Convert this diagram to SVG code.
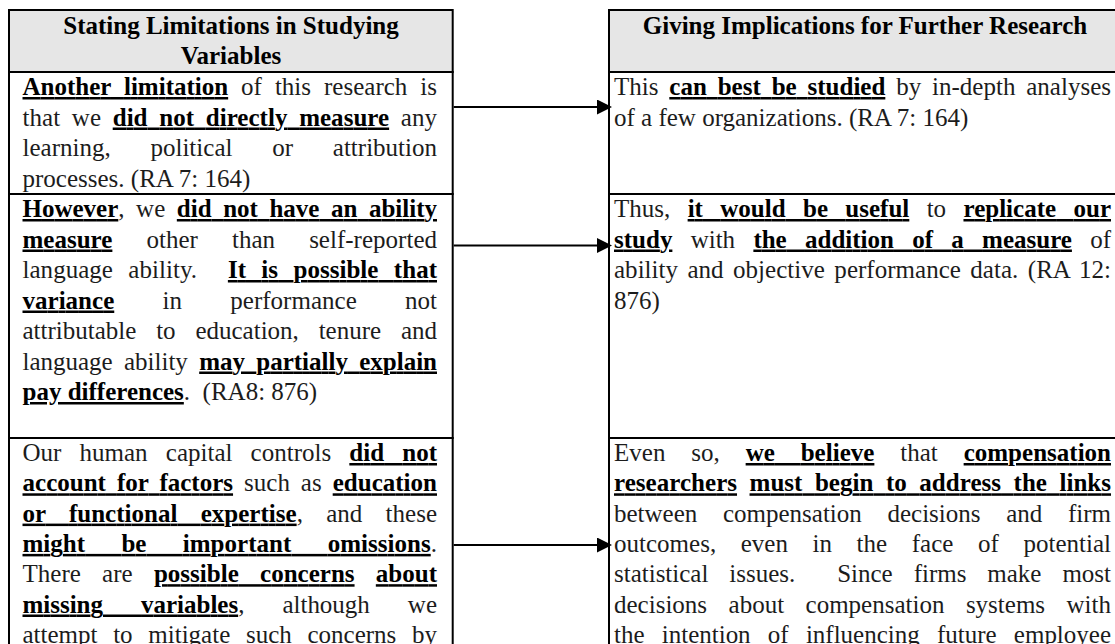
<svg xmlns="http://www.w3.org/2000/svg" width="1115" height="644" viewBox="0 0 1115 644">
<defs>
<style>
text{font-family:"Liberation Serif","Times New Roman",serif;font-size:25px;fill:#1c1c1c}
.h{font-weight:bold;fill:#000;text-anchor:middle}
.u{font-weight:bold;fill:#000;text-decoration:underline;text-decoration-thickness:2px;text-underline-offset:3px}
.cell{fill:#fff;stroke:#000;stroke-width:2}
.head{fill:#e6e6e6;stroke:#000;stroke-width:2}
.conn{stroke:#000;stroke-width:2;fill:none}
</style>
<marker id="ah" markerUnits="userSpaceOnUse" markerWidth="15" markerHeight="15" refX="3" refY="7.5" orient="auto"><path d="M0,0 L15,7.5 L0,15 Z" fill="#000"/></marker>
</defs>
<rect x="0" y="0" width="1115" height="644" fill="#fff"/>

<g id="left-header">
<rect class="head" x="9" y="10" width="443.7" height="62"/>
<text class="h" x="231" y="33.5">Stating Limitations in Studying</text>
<text class="h" x="231" y="64">Variables</text>
</g>
<g id="left-row1">
<rect class="cell" x="9" y="72" width="443.7" height="122"/>
<text x="22.5" y="95" textLength="414.5" lengthAdjust="spacing" style="word-spacing:6.7px"><tspan class="u">Another limitation</tspan> of this research is</text>
<text x="22.5" y="125.5" textLength="414.5" lengthAdjust="spacing" style="word-spacing:5.4px">that we <tspan class="u">did not directly measure</tspan> any</text>
<text x="22.5" y="156" textLength="414.5" lengthAdjust="spacing" style="word-spacing:33.5px">learning, political or attribution</text>
<text x="22.5" y="186.5">processes. (RA 7: 164)</text>
</g>
<g id="left-row2">
<rect class="cell" x="9" y="194" width="443.7" height="244"/>
<text x="22.5" y="217" textLength="414.5" lengthAdjust="spacing" style="word-spacing:5.3px"><tspan class="u">However</tspan>, we <tspan class="u">did not have an ability</tspan></text>
<text x="22.5" y="247.5" textLength="414.5" lengthAdjust="spacing" style="word-spacing:27.8px"><tspan class="u">measure</tspan> other than self-reported</text>
<text x="22.5" y="278" textLength="414.5" lengthAdjust="spacing" style="word-spacing:9.1px">language ability.&#160; <tspan class="u">It is possible that</tspan></text>
<text x="22.5" y="308.5" textLength="414.5" lengthAdjust="spacing" style="word-spacing:42px"><tspan class="u">variance</tspan> in performance not</text>
<text x="22.5" y="339" textLength="414.5" lengthAdjust="spacing" style="word-spacing:13.6px">attributable to education, tenure and</text>
<text x="22.5" y="369.5" textLength="414.5" lengthAdjust="spacing" style="word-spacing:5.1px">language ability <tspan class="u">may partially explain</tspan></text>
<text x="22.5" y="400"><tspan class="u">pay differences</tspan>.&#160; (RA8: 876)</text>
</g>
<g id="left-row3">
<rect class="cell" x="9" y="438" width="443.7" height="260"/>
<text x="22.5" y="461" textLength="414.5" lengthAdjust="spacing" style="word-spacing:11.9px">Our human capital controls <tspan class="u">did not</tspan></text>
<text x="22.5" y="491.3" textLength="414.5" lengthAdjust="spacing" style="word-spacing:4.7px"><tspan class="u">account for factors</tspan> such as <tspan class="u">education</tspan></text>
<text x="22.5" y="521.6" textLength="414.5" lengthAdjust="spacing" style="word-spacing:17px"><tspan class="u">or functional expertise</tspan>, and these</text>
<text x="22.5" y="551.9" textLength="414.5" lengthAdjust="spacing" style="word-spacing:30px"><tspan class="u">might be important omissions</tspan>.</text>
<text x="22.5" y="582.2" textLength="414.5" lengthAdjust="spacing" style="word-spacing:15px">There are <tspan class="u">possible concerns</tspan> <tspan class="u">about</tspan></text>
<text x="22.5" y="612.5" textLength="414.5" lengthAdjust="spacing" style="word-spacing:31.8px"><tspan class="u">missing variables</tspan>, although we</text>
<text x="22.5" y="642.6" textLength="414.5" lengthAdjust="spacing" style="word-spacing:9.5px">attempt to mitigate such concerns by</text>
</g>

<g id="right-header">
<rect class="head" x="609" y="10" width="520" height="62"/>
<text class="h" x="865" y="33.5">Giving Implications for Further Research</text>
</g>
<g id="right-row1">
<rect class="cell" x="609" y="72" width="520" height="122"/>
<text x="614" y="95" textLength="497" lengthAdjust="spacing" style="word-spacing:4.6px">This <tspan class="u">can best be studied</tspan> by in-depth analyses</text>
<text x="614" y="125.5">of a few organizations. (RA 7: 164)</text>
</g>
<g id="right-row2">
<rect class="cell" x="609" y="194" width="520" height="244"/>
<text x="614" y="217" textLength="497" lengthAdjust="spacing" style="word-spacing:11.1px">Thus, <tspan class="u">it would be useful</tspan> to <tspan class="u">replicate our</tspan></text>
<text x="614" y="247.5" textLength="497" lengthAdjust="spacing" style="word-spacing:12px"><tspan class="u">study</tspan> with <tspan class="u">the addition of a measure</tspan> of</text>
<text x="614" y="278" textLength="497" lengthAdjust="spacing" style="word-spacing:3.2px">ability and objective performance data. (RA 12:</text>
<text x="614" y="308.5">876)</text>
</g>
<g id="right-row3">
<rect class="cell" x="609" y="438" width="520" height="260"/>
<text x="614" y="461" textLength="497" lengthAdjust="spacing" style="word-spacing:19.6px">Even so, <tspan class="u">we believe</tspan> that <tspan class="u">compensation</tspan></text>
<text x="614" y="491.3" textLength="497" lengthAdjust="spacing" style="word-spacing:6.2px"><tspan class="u">researchers</tspan> <tspan class="u">must begin to address the links</tspan></text>
<text x="614" y="521.6" textLength="497" lengthAdjust="spacing" style="word-spacing:19.5px">between compensation decisions and firm</text>
<text x="614" y="551.9" textLength="497" lengthAdjust="spacing" style="word-spacing:18.3px">outcomes, even in the face of potential</text>
<text x="614" y="582.2" textLength="497" lengthAdjust="spacing" style="word-spacing:14.7px">statistical issues.&#160; Since firms make most</text>
<text x="614" y="612.5" textLength="497" lengthAdjust="spacing" style="word-spacing:15.2px">decisions about compensation systems with</text>
<text x="614" y="642.6" textLength="497" lengthAdjust="spacing" style="word-spacing:11px">the intention of influencing future employee</text>
</g>

<g id="connectors">
<line class="conn" x1="453.7" y1="107" x2="600" y2="107" marker-end="url(#ah)"/>
<line class="conn" x1="453.7" y1="245.5" x2="600" y2="245.5" marker-end="url(#ah)"/>
<line class="conn" x1="453.7" y1="545" x2="600" y2="545" marker-end="url(#ah)"/>
</g>
</svg>
